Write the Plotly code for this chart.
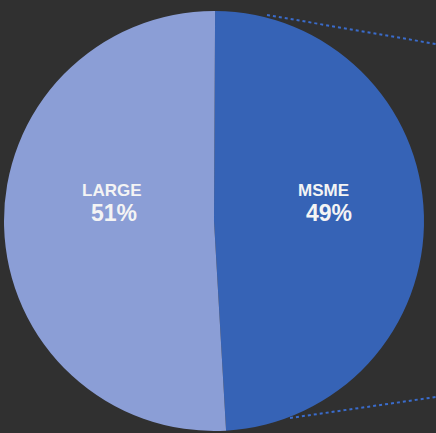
import plotly.graph_objects as go

# Share of the total by enterprise size
segments = ["MSME", "LARGE"]
shares = [49, 51]
slice_colors = ["#3663b6", "#8b9ed6"]

W, H = 436, 433

fig = go.Figure(
    go.Pie(
        labels=segments,
        values=shares,
        sort=False,
        direction="clockwise",
        rotation=0.3,
        marker=dict(colors=slice_colors, line=dict(width=0)),
        textinfo="none",
        hoverinfo="skip",
        showlegend=False,
        domain=dict(x=[4 / W, 424 / W], y=[2 / H, 422 / H]),
    )
)

# Slice labels: name on top, rounded percentage underneath
total = sum(shares)
label_pos = {"MSME": (323, 329), "LARGE": (112, 114)}
label_font = dict(family="Liberation Sans", color="#f4f4f4")
for name, val in zip(segments, shares):
    x_name, x_pct = label_pos[name]
    fig.add_annotation(
        x=x_name / W, y=1 - 190 / H, xref="paper", yref="paper",
        text=f"<b>{name}</b>", showarrow=False,
        font=dict(size=17, **label_font), xanchor="center", yanchor="middle",
    )
    fig.add_annotation(
        x=x_pct / W, y=1 - 213 / H, xref="paper", yref="paper",
        text=f"<b>{round(val / total * 100)}%</b>", showarrow=False,
        font=dict(size=23, **label_font), xanchor="center", yanchor="middle",
    )

# Dotted leader lines running off to the right of the MSME slice
leader = dict(color="#3a6ccc", width=2, dash="dot")
fig.add_shape(type="line", xref="paper", yref="paper",
              x0=267 / W, y0=1 - 15 / H, x1=1, y1=1 - 44 / H, line=leader)
fig.add_shape(type="line", xref="paper", yref="paper",
              x0=290 / W, y0=1 - 418 / H, x1=1, y1=1 - 397 / H, line=leader)

fig.update_layout(
    width=W,
    height=H,
    margin=dict(l=0, r=0, t=0, b=0),
    paper_bgcolor="#303030",
    plot_bgcolor="#303030",
)

fig.write_html("out.html")
